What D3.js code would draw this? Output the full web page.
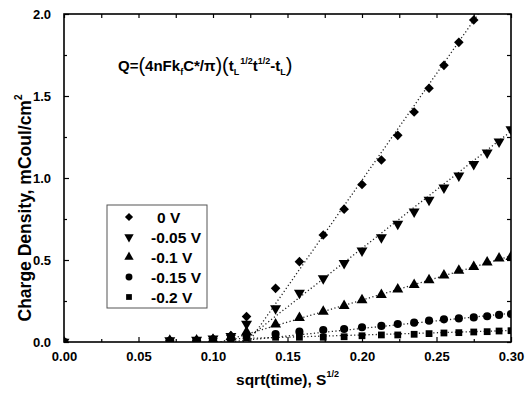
<!DOCTYPE html>
<html>
<head>
<meta charset="utf-8">
<script src="https://cdn.jsdelivr.net/npm/d3@7"></script>
<style>
  body { margin: 0; background: #fff; }
  svg text { font-family: "Liberation Sans", Arial, sans-serif; font-weight: bold; fill: #000; }
  .tick line { stroke: #000; stroke-width: 1.2; }
  .tick text { font-size: 13px; }
  .domain { display: none; }
</style>
</head>
<body>
<div id="chart"></div>
<script>
var width = 526;
var height = 398;
var margin = {top: 14, left: 64, right: 15, bottom: 56};

// sqrt(time) values, S^1/2
var sqrtTime = [0, 0.071, 0.089, 0.1, 0.112, 0.1225, 0.142, 0.158, 0.174, 0.188, 0.2,
  0.213, 0.224, 0.235, 0.245, 0.255, 0.265, 0.275, 0.284, 0.292, 0.3];

// charge density, mCoul/cm^2
var q0V   = [0, 0.01, 0.01, 0.02, 0.04, 0.155, 0.327, 0.49, 0.652, 0.81, 0.96,
  1.11, 1.26, 1.402, 1.547, 1.687, 1.827, 1.963, null, null, null];
var q005V = [0, 0.01, 0.012, 0.02, 0.035, 0.11, 0.205, 0.30, 0.388, 0.48, 0.557,
  0.638, 0.72, 0.795, 0.866, 0.941, 1.014, 1.085, 1.154, 1.221, 1.297];
var q01V  = [0, 0.008, 0.01, 0.015, 0.03, 0.06, 0.108, 0.148, 0.185, 0.22, 0.256,
  0.287, 0.321, 0.348, 0.378, 0.407, 0.435, 0.459, 0.486, 0.51, 0.52];
var q015V = [0, 0.005, 0.008, 0.012, 0.02, 0.04, 0.049, 0.063, 0.073, 0.079, 0.09,
  0.098, 0.11, 0.118, 0.13, 0.138, 0.144, 0.15, 0.157, 0.165, 0.171];
var q02V  = [0, 0.004, 0.006, 0.01, 0.015, 0.025, 0.029, 0.029, 0.029, 0.032, 0.038,
  0.043, 0.043, 0.047, 0.051, 0.055, 0.057, 0.061, 0.063, 0.067, 0.069];

var seriesNames = ["0 V", "-0.05 V", "-0.1 V", "-0.15 V", "-0.2 V"];
var seriesValues = [q0V, q005V, q01V, q015V, q02V];
var seriesShapes = ["diamond", "down", "up", "circle", "square"];

// fitted lines Q=(4nFkfC*/pi)(tL^1/2 t^1/2 - tL), start and end points
var fitX0 = [0.124, 0.12, 0.105, 0.11, 0.115];
var fitY0 = [0, 0, 0, 0, 0.02];
var fitX1 = [0.278, 0.3, 0.3, 0.3, 0.3];
var fitY1 = [2.0, 1.285, 0.525, 0.175, 0.07];

var xTicks = [0, 0.05, 0.1, 0.15, 0.2, 0.25, 0.3];
var yTicks = [0, 0.5, 1.0, 1.5, 2.0];

var svg = d3.select("#chart")
  .append("svg")
  .attr("width", width)
  .attr("height", height);

var xScale = d3.scaleLinear()
  .domain([0, 0.3])
  .range([margin.left, width - margin.right]);

var yScale = d3.scaleLinear()
  .domain([0, 2.0])
  .range([height - margin.bottom, margin.top]);

var pLeft = margin.left, pRight = width - margin.right;
var pTop = margin.top, pBottom = height - margin.bottom;

svg.append("clipPath")
  .attr("id", "plot")
  .append("rect")
    .attr("x", pLeft)
    .attr("y", pTop)
    .attr("width", pRight - pLeft)
    .attr("height", pBottom - pTop);

// minor ticks (inside)
var xMinor = [0.025, 0.075, 0.125, 0.175, 0.225, 0.275];
var yMinor = [0.25, 0.75, 1.25, 1.75];

svg.append("g")
  .attr("transform", `translate(0,${pBottom})`)
  .call(d3.axisBottom(xScale).tickValues(xMinor).tickSize(-3).tickFormat(""));
svg.append("g")
  .attr("transform", `translate(0,${pTop})`)
  .call(d3.axisTop(xScale).tickValues(xTicks.concat(xMinor)).tickSize(-4).tickFormat(""));
svg.append("g")
  .attr("transform", `translate(${pLeft},0)`)
  .call(d3.axisLeft(yScale).tickValues(yMinor).tickSize(-3).tickFormat(""));
svg.append("g")
  .attr("transform", `translate(${pRight},0)`)
  .call(d3.axisRight(yScale).tickValues(yTicks.concat(yMinor)).tickSize(-4).tickFormat(""));

var xAxis = svg.append("g")
  .attr("transform", `translate(0,${pBottom})`)
  .call(d3.axisBottom(xScale).tickValues(xTicks).tickSize(-5).tickPadding(10)
    .tickFormat(d3.format(".2f")));

var yAxis = svg.append("g")
  .attr("transform", `translate(${pLeft},0)`)
  .call(d3.axisLeft(yScale).tickValues(yTicks).tickSize(-5).tickPadding(13)
    .tickFormat(d3.format(".1f")));

// fit lines
var plot = svg.append("g").attr("clip-path", "url(#plot)");

plot.selectAll("line.fit")
  .data(seriesNames)
  .enter()
  .append("line")
    .attr("class", "fit")
    .attr("x1", function(d, i) { return xScale(fitX0[i]); })
    .attr("y1", function(d, i) { return yScale(fitY0[i]); })
    .attr("x2", function(d, i) { return xScale(fitX1[i]); })
    .attr("y2", function(d, i) { return yScale(fitY1[i]); })
    .attr("stroke", "#222")
    .attr("stroke-width", 1.3)
    .attr("stroke-dasharray", "1.2,2.4");

function symbolPath(shape) {
  if (shape == "diamond") return d3.symbol().type(d3.symbolSquare).size(46)();
  if (shape == "down" || shape == "up") return d3.symbol().type(d3.symbolTriangle).size(52)();
  if (shape == "circle") return d3.symbol().type(d3.symbolCircle).size(52)();
  return d3.symbol().type(d3.symbolSquare).size(46)();
}
function symbolRotate(shape) {
  if (shape == "diamond") return 45;
  if (shape == "down") return 180;
  return 0;
}

seriesValues.forEach(function(vals, s) {
  var pts = sqrtTime.map(function(x, i) { return {x: x, y: vals[i]}; })
    .filter(function(d) { return d.y != null; });
  plot.selectAll("path.s" + s)
    .data(pts)
    .enter()
    .append("path")
      .attr("class", "s" + s)
      .attr("d", symbolPath(seriesShapes[s]))
      .attr("transform", function(d) {
        return `translate(${xScale(d.x)},${yScale(d.y)}) rotate(${symbolRotate(seriesShapes[s])})`;
      })
      .attr("fill", "#000");
});

// frame
svg.append("rect")
  .attr("x", pLeft)
  .attr("y", pTop)
  .attr("width", pRight - pLeft)
  .attr("height", pBottom - pTop)
  .attr("fill", "none")
  .attr("stroke", "#000")
  .attr("stroke-width", 1.6);

// legend
var legend = svg.append("g");
legend.append("rect")
  .attr("x", 107)
  .attr("y", 205)
  .attr("width", 100)
  .attr("height", 103)
  .attr("fill", "#fff")
  .attr("stroke", "#555")
  .attr("stroke-width", 1);

var rowY = d3.scalePoint().domain(seriesNames).range([217, 297]);

legend.selectAll("path")
  .data(seriesNames)
  .enter()
  .append("path")
    .attr("d", function(d, i) { return symbolPath(seriesShapes[i]); })
    .attr("transform", function(d, i) {
      return `translate(129,${rowY(d)}) rotate(${symbolRotate(seriesShapes[i])}) scale(0.85)`;
    })
    .attr("fill", "#000");

legend.selectAll("text")
  .data(seriesNames)
  .enter()
  .append("text")
    .attr("x", function(d) { return d == "0 V" ? 157 : 151; })
    .attr("y", function(d) { return rowY(d) + 5.5; })
    .style("font-size", "15.5px")
    .text(function(d) { return d; });

// equation
var eq = svg.append("text")
  .attr("x", 118)
  .attr("y", 71)
  .style("font-size", "15px");
eq.append("tspan").text("Q=");
eq.append("tspan").style("font-size", "20px").style("font-weight", "normal").attr("dy", 1).text("(");
eq.append("tspan").attr("dy", -1).text("4nFk");
eq.append("tspan").style("font-size", "9px").attr("dy", 4).text("f");
eq.append("tspan").attr("dy", -4).text("C*/π");
eq.append("tspan").style("font-size", "20px").style("font-weight", "normal").attr("dy", 1).text(")(");
eq.append("tspan").attr("dy", -1).text("t");
eq.append("tspan").style("font-size", "9px").attr("dy", 4).text("L");
eq.append("tspan").style("font-size", "9px").attr("dy", -11).attr("dx", 1).text("1/2");
eq.append("tspan").attr("dy", 7).text("t");
eq.append("tspan").style("font-size", "9px").attr("dy", -7).text("1/2");
eq.append("tspan").attr("dy", 7).text("-t");
eq.append("tspan").style("font-size", "9px").attr("dy", 4).text("L");
eq.append("tspan").style("font-size", "20px").style("font-weight", "normal").attr("dy", -3).text(")");

// axis titles
var xTitle = svg.append("text")
  .attr("x", (pLeft + pRight) / 2)
  .attr("y", 385)
  .attr("text-anchor", "middle")
  .style("font-size", "15.5px");
xTitle.append("tspan").text("sqrt(time), S");
xTitle.append("tspan").style("font-size", "9px").attr("dy", -8).text("1/2");

var yTitle = svg.append("text")
  .attr("transform", `translate(31,${(pTop + pBottom) / 2 + 30}) rotate(-90)`)
  .attr("text-anchor", "middle")
  .style("font-size", "17.5px");
yTitle.append("tspan").text("Charge Density, mCoul/cm");
yTitle.append("tspan").style("font-size", "10px").attr("dy", -9).text("2");
</script>
</body>
</html>
